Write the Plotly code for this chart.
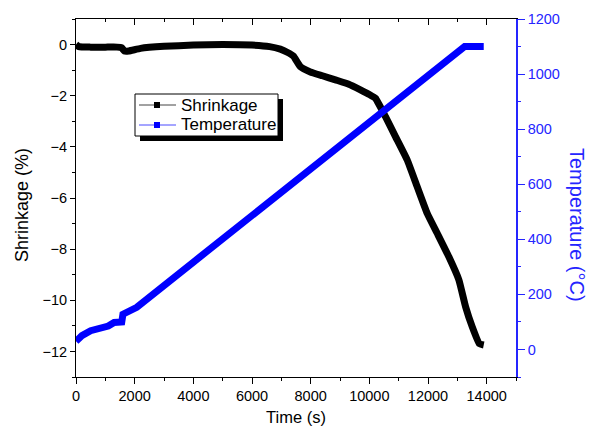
import plotly.graph_objects as go

# Shrinkage (%) versus time (s)
shrink_time = [0, 100, 500, 1000, 1400, 1550, 1650, 1800, 2200, 3000, 4000, 5000,
               6000, 6600, 6965, 7200, 7409, 7648, 7989, 8400, 8843, 9300, 9696,
               10000, 10208, 10550, 10891, 11290, 11632, 11973, 12314, 12711,
               13052, 13281, 13509, 13750, 13900]
shrink_val = [0.0, -0.08, -0.1, -0.1, -0.1, -0.12, -0.25, -0.25, -0.15, -0.07,
              -0.02, 0.0, -0.02, -0.08, -0.18, -0.3, -0.45, -0.86, -1.07, -1.22,
              -1.38, -1.55, -1.77, -1.95, -2.1, -2.82, -3.6, -4.51, -5.56, -6.6,
              -7.38, -8.3, -9.2, -10.25, -11.04, -11.7, -11.75]

# Furnace temperature (°C) versus time (s)
temp_time = [0, 200, 500, 900, 1100, 1300, 1500, 1560, 1600, 1800, 2072,
             4000, 6000, 8000, 10000, 12000, 13150, 13250, 13900]
temp_val = [30, 50, 68, 76, 85, 98, 100, 100, 128, 140, 153,
            317, 487, 657, 827, 997, 1095, 1100, 1100]

series_names = ["Shrinkage", "Temperature"]
series_colors = ["black", "#0000ff"]
legend_line_colors = ["#444444", "#4a4aff"]

x_ticks = [0, 2000, 4000, 6000, 8000, 10000, 12000, 14000]
y_ticks = [0, -2, -4, -6, -8, -10, -12]
t_ticks = [0, 200, 400, 600, 800, 1000, 1200]

W, H = 596, 431
L, R, T, B = 76, 80, 19, 54
pw, ph = W - L - R, H - T - B

FONT = "Arial, Liberation Sans, sans-serif"
BLUE_AX = "#2525ff"


def px(xp):
    return (xp - L) / pw


def py(yp):
    return 1 - (yp - T) / ph


fig = go.Figure()

fig.add_trace(go.Scatter(
    x=shrink_time, y=shrink_val, mode="lines", name=series_names[0],
    line=dict(color=series_colors[0], width=7, shape="spline", smoothing=0.4),
    showlegend=False, xaxis="x", yaxis="y"))
fig.add_trace(go.Scatter(
    x=temp_time, y=temp_val, mode="lines", name=series_names[1],
    line=dict(color=series_colors[1], width=7),
    showlegend=False, xaxis="x", yaxis="y2"))

# carrier for the top tick axis
fig.add_trace(go.Scatter(x=[None], y=[None], xaxis="x2", yaxis="y",
                         showlegend=False, hoverinfo="skip"))

# legend box with drop shadow
bx0, by0, bx1, by1 = 135, 94, 278, 136
sh = 5
fig.add_shape(type="rect", xref="paper", yref="paper",
              x0=px(bx0 + sh), x1=px(bx1 + sh), y0=py(by1 + sh), y1=py(by0 + sh),
              fillcolor="black", line=dict(width=0), layer="above")
fig.add_shape(type="rect", xref="paper", yref="paper",
              x0=px(bx0), x1=px(bx1), y0=py(by1), y1=py(by0),
              fillcolor="white", line=dict(color="black", width=1), layer="above")
row_y = [105, 125]
for name, col, lcol, ry in zip(series_names, series_colors, legend_line_colors, row_y):
    fig.add_shape(type="line", xref="paper", yref="paper",
                  x0=px(139), x1=px(176), y0=py(ry), y1=py(ry),
                  line=dict(color=lcol, width=1), layer="above")
    fig.add_shape(type="rect", xref="paper", yref="paper",
                  x0=px(154), x1=px(160), y0=py(ry + 3), y1=py(ry - 3),
                  fillcolor=col, line=dict(width=0), layer="above")
    fig.add_annotation(text=name, xref="paper", yref="paper", x=px(179), y=py(ry),
                       xanchor="left", yanchor="middle", showarrow=False,
                       font=dict(size=17, color="black", family=FONT))

# axis titles for the two value scales
fig.add_annotation(text="Shrinkage (%)", xref="paper", yref="paper",
                   x=px(22), y=py(205), xanchor="center", yanchor="middle",
                   showarrow=False, textangle=-90,
                   font=dict(size=18, color="black", family=FONT))
fig.add_annotation(text="Temperature (°C)", xref="paper", yref="paper",
                   x=px(577), y=py(225), xanchor="center", yanchor="middle",
                   showarrow=False, textangle=90,
                   font=dict(size=20, color=BLUE_AX, family=FONT))

fig.update_layout(
    width=W, height=H,
    margin=dict(l=L, r=R, t=T, b=B, autoexpand=False),
    paper_bgcolor="white", plot_bgcolor="white",
    font=dict(family=FONT, color="black", size=14.5),
    showlegend=False,
    xaxis=dict(range=[0, 15000], tickvals=x_ticks, ticktext=[str(v) for v in x_ticks],
               ticks="outside", ticklen=6,
               tickcolor="black", showline=True, linecolor="black", linewidth=1,
               showgrid=False, zeroline=False,
               minor=dict(dtick=1000, ticks="outside", ticklen=3, tickcolor="black"),
               title=dict(text="Time (s)", font=dict(size=16.5), standoff=8),
               tickfont=dict(size=14.5)),
    xaxis2=dict(range=[0, 15000], overlaying="x", side="top", anchor="y",
                tickvals=x_ticks, ticks="inside", ticklen=6, tickcolor="black",
                showticklabels=False, showline=True, linecolor="black", linewidth=1,
                showgrid=False, zeroline=False,
                minor=dict(dtick=1000, ticks="inside", ticklen=3, tickcolor="black")),
    yaxis=dict(range=[-13, 1], tickvals=y_ticks, ticks="outside", ticklen=5,
               tickcolor="black", showline=True, linecolor="black", linewidth=1,
               showgrid=False, zeroline=False,
               minor=dict(dtick=1, ticks="outside", ticklen=3, tickcolor="black"),
               tickfont=dict(size=14.5)),
    yaxis2=dict(range=[-100, 1200], tickvals=t_ticks, overlaying="y", side="right",
                anchor="x", ticks="outside", ticklen=7, tickcolor=BLUE_AX,
                showline=True, linecolor=BLUE_AX, linewidth=1.5,
                showgrid=False, zeroline=False,
                minor=dict(dtick=100, ticks="outside", ticklen=3, tickcolor=BLUE_AX),
                tickfont=dict(size=14.5, color=BLUE_AX)),
)

fig.write_html("out.html")
